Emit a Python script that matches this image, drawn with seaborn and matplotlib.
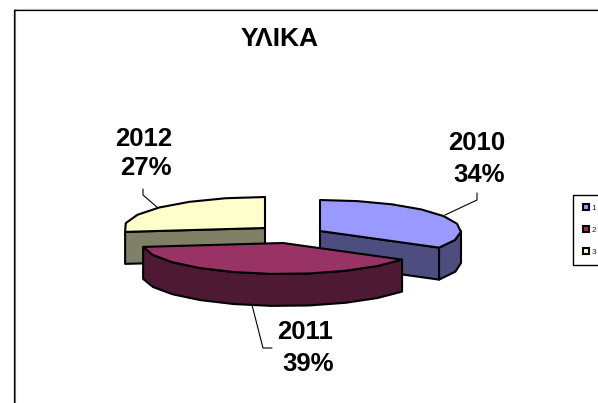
import numpy as np
import pandas as pd
import matplotlib
matplotlib.use("Agg")
import matplotlib.pyplot as plt
from matplotlib.lines import Line2D
from matplotlib.patches import Polygon
import seaborn as sns

# -- Data ------------------------------------------------------------------
years = ["2010", "2011", "2012"]
shares = [34, 39, 27]
legend_labels = ["1", "2", "3"]
top_colors = ["#9999FF", "#993366", "#FFFFCC"]
side_colors = ["#4D4D80", "#4D1933", "#808066"]
chart_title = "ΥΛΙΚΑ"

# -- Setup -----------------------------------------------------------------
sns.set_theme(style="white")
plt.rcParams["font.family"] = ["Liberation Sans", "DejaVu Sans"]

data = pd.DataFrame({"year": years, "share": shares})
data["end"] = data["share"].cumsum() / data["share"].sum() * 360
data["start"] = data["end"].shift(fill_value=0)

# exploded wedge apex positions in pixels, and the flattened pie shape
centers = {"2010": (320, 231), "2011": (283, 243), "2012": (265, 228)}
rx, ry, depth = 141, 31, 32

fig, ax = plt.subplots(figsize=(5.98, 4.03), dpi=100)
ax.set_position([0, 0, 1, 1])
ax.set_xlim(0, 598)
ax.set_ylim(403, 0)
ax.axis("off")


def rim(cx, cy, a0, a1):
    # coarse steps on purpose, the reference outline is lumpy
    n = max(2, int(round((a1 - a0) / 15)) + 1)
    ang = np.radians(np.linspace(a0, a1, n))
    return np.column_stack([cx + rx * np.sin(ang), cy - ry * np.cos(ang)])


def face(pts, color, z):
    ax.add_patch(Polygon(pts, closed=True, facecolor=color, edgecolor="black",
                         linewidth=1.5, joinstyle="round", zorder=z))


# 2012 first, then 2010, the 2011 wedge sits in front of both
for z, i in zip([2, 4, 6], [2, 0, 1]):
    row = data.iloc[i]
    cx, cy = centers[row["year"]]
    a0, a1 = row["start"], row["end"]
    drop = np.array([0, depth])

    # cut face on the front side
    if a1 >= 360:
        edge = rim(cx, cy, a0, a0)[:1]
        cut = np.vstack([[cx, cy], edge, edge + drop, [[cx, cy + depth]]])
        face(cut, side_colors[i], z)
    elif a0 == 0:
        edge = rim(cx, cy, a1, a1)[:1]
        cut = np.vstack([[cx, cy], edge, edge + drop, [[cx, cy + depth]]])
        face(cut, side_colors[i], z)

    # outer rim, only the part that faces the viewer
    lo, hi = max(a0, 90), min(a1, 270)
    if hi - lo > 10:
        band = rim(cx, cy, lo, hi)
        face(np.vstack([band, (band + drop)[::-1]]), side_colors[i], z + 0.1)

    # top face
    face(np.vstack([[cx, cy], rim(cx, cy, a0, a1)]), top_colors[i], z + 0.2)

# -- Labels and leader lines -----------------------------------------------
year_pos = {"2010": (477, 142.5), "2011": (305, 332), "2012": (143.5, 139)}
pct_pos = {"2010": (479, 175), "2011": (308, 364), "2012": (146, 168)}
leaders = {
    "2010": ([445, 477, 477], [215, 200, 193]),
    "2011": ([252, 263, 272], [305, 348, 348]),
    "2012": ([158, 143, 143], [208, 195, 189]),
}
for _, row in data.iterrows():
    y = row["year"]
    ax.text(*year_pos[y], y, ha="center", va="center", fontsize=18.5,
            fontweight="bold", color="black")
    ax.text(*pct_pos[y], f"{row['share']}%", ha="center", va="center",
            fontsize=18.5, fontweight="bold", color="black")
    ax.plot(*leaders[y], color="black", lw=0.8, zorder=1)

ax.text(280, 39, chart_title, ha="center", va="center", fontsize=19,
        fontweight="bold", color="black")

# -- Outer frame, cropped at the right and bottom --------------------------
ax.plot([14, 598], [8.5, 8.5], color="#c0c0c0", lw=0.8)
ax.plot([15, 15], [9, 403], color="#808080", lw=0.8)
ax.plot([14, 14, 598], [403, 9.5, 9.5], color="black", lw=0.9)

# -- Legend ----------------------------------------------------------------
handles = [Line2D([], [], linestyle="", marker="s", markersize=4.5,
                  markerfacecolor=c, markeredgecolor="black",
                  markeredgewidth=1.5) for c in top_colors]
ax.legend(handles, legend_labels, loc="upper left", bbox_to_anchor=(573, 195),
          bbox_transform=ax.transData, fontsize=6, frameon=True, fancybox=False,
          edgecolor="black", framealpha=1, labelspacing=1.7, borderpad=1.1,
          borderaxespad=0, handlelength=1, handletextpad=0.1)

fig.savefig("out.png", dpi=100)
